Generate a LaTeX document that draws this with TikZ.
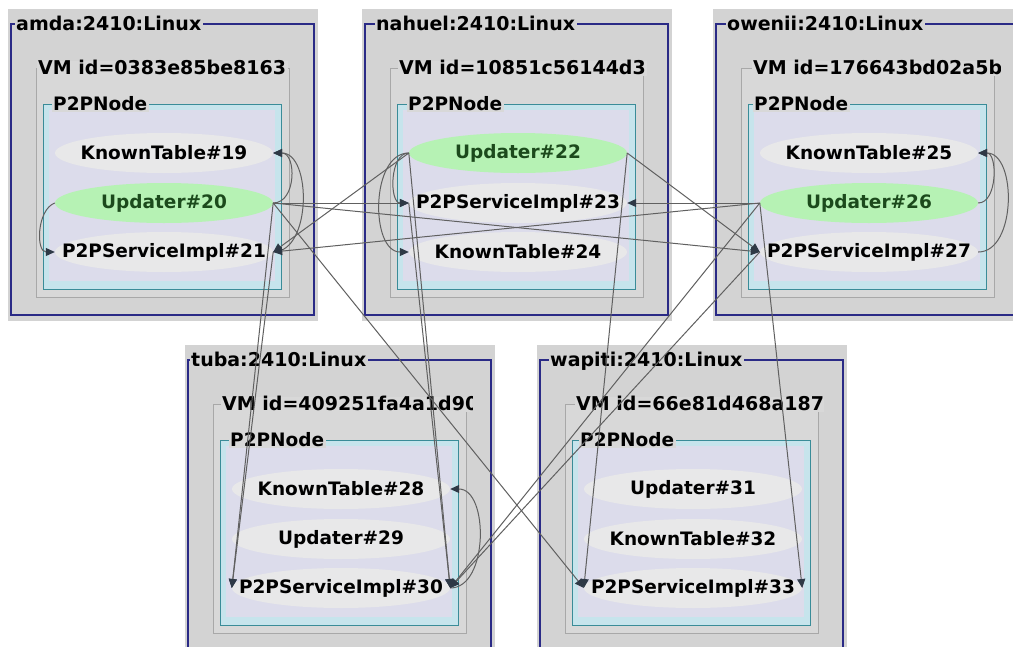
\documentclass[tikz,border=0pt]{standalone}
\usepackage{fontspec}
\setmainfont{DejaVu Sans}
\usetikzlibrary{arrows.meta,shapes.geometric}

\definecolor{hostgray}{HTML}{D3D3D3}
\definecolor{hostline}{HTML}{2A2A86}
\definecolor{vmgray}{HTML}{D8D8D8}
\definecolor{vmline}{HTML}{A8A8A8}
\definecolor{bandcyan}{HTML}{C6E4EC}
\definecolor{lavender}{HTML}{DCDCEB}
\definecolor{nodeteal}{HTML}{3A8C98}
\definecolor{idlefill}{HTML}{E8E8E9}
\definecolor{activefill}{HTML}{B6F2B4}
\definecolor{activetext}{HTML}{1C4A1C}
\definecolor{edgegray}{HTML}{606060}
\definecolor{tipcolor}{HTML}{2E3946}

\newcommand{\complabel}[1]{\makebox[0pt]{#1}}

% #1,#2 = top-left corner; #3 host title; #4 VM title;
% #5,#6,#7 = x offsets of the host, VM and P2PNode titles
\newcommand{\hostframe}[7]{%
  \begin{scope}[shift={(#1,#2)}]
    \fill[hostgray] (0,0) rectangle (310,312);
    \draw[hostline, line width=1.2pt] (3,15) rectangle (306,306);
    \node[boxtitle, fill=hostgray, font=\fontsize{19}{20}\selectfont\bfseries] at (#5-1.5,15) {#3};
    \filldraw[fill=vmgray, draw=vmline, line width=1pt] (28,59) rectangle (281,288);
    \begin{scope}
      \clip (20,40) rectangle (287,80);
      \node[boxtitle, fill=vmgray, font=\fontsize{19}{20}\selectfont\bfseries] at (#6-1.5,59) {#4};
    \end{scope}
    \fill[bandcyan] (35,95) rectangle (273,280);
    \fill[lavender] (41,101) rectangle (267,272);
    \draw[nodeteal, line width=1pt] (35,95) rectangle (273,280);
    \node[boxtitle, fill=vmgray] at (#7-1.5,95) {P2PNode};
  \end{scope}}

\tikzset{
  boxtitle/.style={anchor=west, inner xsep=1.5pt, inner ysep=1pt,
    text height=13pt, text depth=0pt,
    font=\fontsize{18.5}{20}\selectfont\bfseries},
  comp/.style={ellipse, minimum width=218pt, minimum height=40pt, inner sep=0pt,
    font=\fontsize{18.5}{20}\selectfont\bfseries},
  idle/.style={comp, fill=idlefill},
  active/.style={comp, fill=activefill, text=activetext},
  call/.style={draw=edgegray, line width=1pt,
    -{Triangle[length=9pt,width=8pt,color=tipcolor]}},
}

\begin{document}
\begin{tikzpicture}[x=1pt, y=-1pt]
  \useasboundingbox (0,0) rectangle (1013,646);
  \fill[white] (0,0) rectangle (1013,646);
  \clip (0,0) rectangle (1013,646);

  % hosts, virtual machines and P2P nodes
  \hostframe{8}{9}{amda:2410:Linux}{VM id=0383e85be8163}{8}{30}{45}
  \hostframe{362}{9}{nahuel:2410:Linux}{VM id=10851c56144d3}{14}{37}{46}
  \hostframe{713}{9}{owenii:2410:Linux}{VM id=176643bd02a5b}{14}{40}{41}
  \hostframe{185}{345}{tuba:2410:Linux}{VM id=409251fa4a1d90}{6}{37}{45}
  \hostframe{537}{345}{wapiti:2410:Linux}{VM id=66e81d468a187}{13}{39}{43}

  % active objects
  \node[idle]   (kt19) at (164,153) {\complabel{KnownTable\#19}};
  \node[active] (u20)  at (164,203) {\complabel{Updater\#20}};
  \node[idle]   (p21)  at (164,252) {\complabel{P2PServiceImpl\#21}};

  \node[active] (u22)  at (518,153) {\complabel{Updater\#22}};
  \node[idle]   (p23)  at (518,203) {\complabel{P2PServiceImpl\#23}};
  \node[idle]   (kt24) at (518,252) {\complabel{KnownTable\#24}};

  \node[idle]   (kt25) at (869,153) {\complabel{KnownTable\#25}};
  \node[active] (u26)  at (869,203) {\complabel{Updater\#26}};
  \node[idle]   (p27)  at (869,252) {\complabel{P2PServiceImpl\#27}};

  \node[idle]   (kt28) at (341,489) {\complabel{KnownTable\#28}};
  \node[idle]   (u29)  at (341,539) {\complabel{Updater\#29}};
  \node[idle]   (p30)  at (341,588) {\complabel{P2PServiceImpl\#30}};

  \node[idle]   (u31)  at (693,489) {\complabel{Updater\#31}};
  \node[idle]   (kt32) at (693,539) {\complabel{KnownTable\#32}};
  \node[idle]   (p33)  at (693,588) {\complabel{P2PServiceImpl\#33}};

  % calls inside one VM
  \draw[call] (u20.west) to[out=200,in=180] (p21.west);
  \draw[call] (u20.east) to[out=0,in=0,looseness=1.2] (kt19.east);
  \draw[call] (p21.east) to[out=0,in=0] (kt19.east);
  \draw[call] (u22.west) to[out=180,in=180] (p23.west);
  \draw[call] (u22.west) to[out=180,in=180] (kt24.west);
  \draw[call] (u26.east) to[out=0,in=0] (kt25.east);
  \draw[call] (p27.east) to[out=0,in=0] (kt25.east);
  \draw[call] (p30.east) to[out=0,in=0] (kt28.east);

  % remote calls
  \draw[call] (u20.east) -- (p23.west);
  \draw[call] (u20.east) -- (p27.west);
  \draw[call] (u20.east) -- (p30.west);
  \draw[call] (u20.east) -- (p33.west);
  \draw[call] (p21.east) -- (p30.west);
  \draw[call] (u22.west) -- (p21.east);
  \draw[call] (u22.east) -- (p27.west);
  \draw[call] (u22.west) -- (p30.east);
  \draw[call] (u22.east) -- (p33.west);
  \draw[call] (p23.west) -- (p30.east);
  \draw[call] (u26.west) -- (p23.east);
  \draw[call] (u26.west) -- (p21.east);
  \draw[call] (u26.west) -- (p30.east);
  \draw[call] (u26.west) -- (p33.east);
  \draw[call] (p27.west) -- (p30.east);
\end{tikzpicture}
\end{document}
